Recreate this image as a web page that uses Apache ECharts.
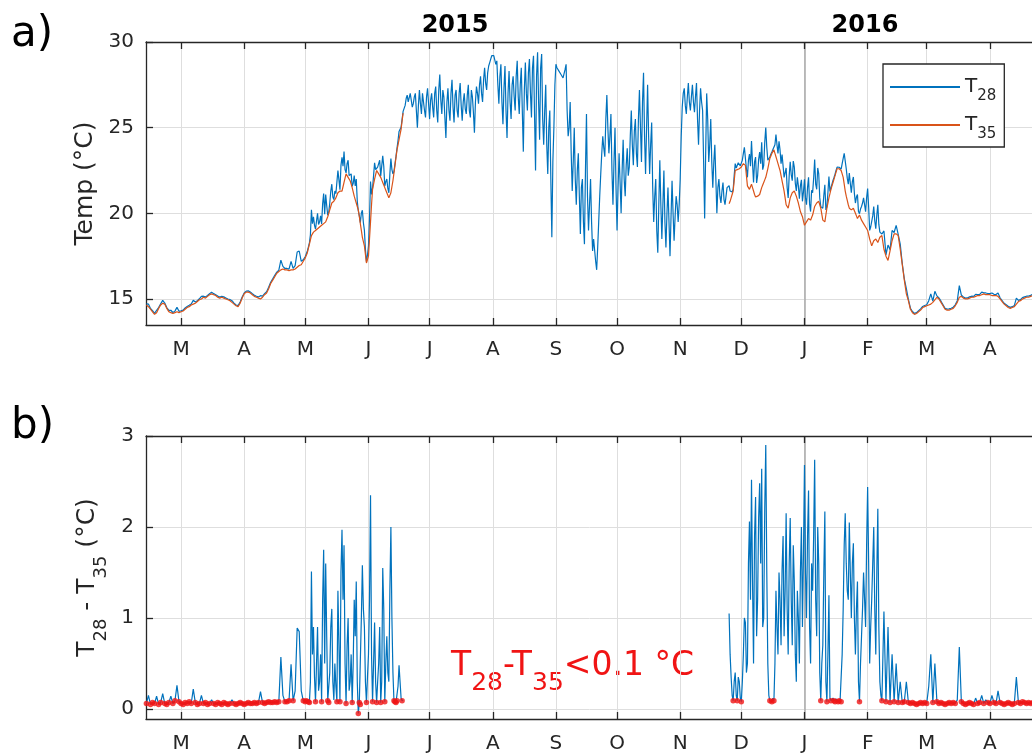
<!DOCTYPE html>
<html>
<head>
<meta charset="utf-8">
<script src="https://cdn.jsdelivr.net/npm/echarts@6/dist/echarts.min.js"></script>
<style>
  html, body { margin: 0; padding: 0; background: #ffffff; }
  #chart { width: 1032px; height: 756px; }
</style>
</head>
<body>
<div id="chart"></div>
<script>
// Days are counted from 1 Jan 2015 (day 0). Daily readings, plus mid-day
// readings (day + 0.5) through the most variable stretches.

// Spring 2015: both sensors running (12 Feb .. 18 Jun 2015)
const springStart = 42;
const t35Spring = [
  14.65,14.55,14.4,14.25,14.1,14.2,14.45,14.65,14.75,14.7,
  14.45,14.26,14.2,14.15,14.2,14.25,14.2,14.25,14.3,14.4,
  14.5,14.55,14.65,14.7,14.75,14.85,14.95,15.0,15.1,15.05,
  15.15,15.25,15.3,15.25,15.2,15.1,15.05,15.1,15.05,15.0,
  14.95,14.9,14.8,14.7,14.6,14.55,14.75,15.05,15.3,15.4,
  15.4,15.35,15.25,15.15,15.1,15.05,15.0,15.1,15.25,15.35,
  15.6,15.9,16.1,16.3,16.5,16.6,16.7,16.75,16.7,16.7,
  16.65,16.7,16.7,16.75,16.85,16.95,17.0,17.2,17.4,17.7,
  18.2,18.7,18.9,19.0,19.1,19.2,19.3,19.4,19.5,19.8,
  20.2,20.6,20.7,20.9,21.2,21.3,21.3,21.8,22.3,22.1,
  21.9,21.5,21.0,20.6,20.2,19.4,18.6,18.1,17.1,17.5,
  19.5,21.4,22.0,22.5,22.3,22.1,21.8,21.5,21.2,20.9,
  21.2,21.9,22.8,23.7,24.3,24.9,25.85
];
const diffSpring = [
  0.06,0.15,0.05,0.07,0.06,0.14,0.05,0.07,0.17,0.06,
  0.05,0.07,0.14,0.06,0.09,0.26,0.08,0.06,0.05,0.07,
  0.06,0.08,0.06,0.22,0.07,0.05,0.06,0.15,0.06,0.07,
  0.05,0.06,0.1,0.06,0.05,0.07,0.06,0.05,0.07,0.06,
  0.05,0.06,0.1,0.06,0.05,0.06,0.07,0.06,0.05,0.06,
  0.07,0.06,0.06,0.07,0.06,0.07,0.19,0.07,0.06,0.07,
  0.08,0.07,0.07,0.08,0.07,0.08,0.57,0.15,0.08,0.08,
  0.09,0.49,0.09,0.2,0.89,0.85,0.2,0.09,0.08,0.1,
  0.07,1.51,0.9,0.08,0.9,0.3,0.08,1.75,1.6,0.09,
  0.4,1.1,0.1,0.25,1.3,0.08,1.97,1.8,0.06,1.0,
  0.3,0.07,1.2,1.4,-0.05,0.05,1.58,0.9,0.07,0.6,
  2.35,0.08,0.95,0.07,0.5,0.07,1.55,0.08,0.8,0.3,
  2.0,0.4,0.08,0.09,0.48,0.12,0.1
];
// mid-day readings, 1 May .. 17 Jun 2015
const springMidStart = 120;
const t35SpringMid = [
  17.55,17.95,18.45,18.8,18.95,19.05,19.15,19.25,19.35,19.45,
  19.65,20.0,20.4,20.65,20.8,21.05,21.25,21.3,21.55,22.05,
  22.2,22.0,21.7,21.25,20.8,20.4,19.8,19.0,18.35,17.6,
  17.2,18.5,20.5,21.7,22.25,22.4,22.2,21.95,21.65,21.35,
  21.05,21.0,21.55,22.35,23.25,24.0,24.6,25.4
];
const diffSpringMid = [
  0.09,0.08,0.3,0.6,0.35,0.5,0.2,0.6,1.2,0.5,
  0.8,0.07,0.9,0.3,0.5,0.08,0.7,1.5,1.2,0.5,
  0.7,0.2,0.6,0.5,0.8,0.3,0.07,1.0,1.1,0.3,
  0.35,1.2,0.6,0.5,0.3,0.3,0.9,0.3,1.1,0.5,
  0.4,1.3,1.0,0.09,0.07,0.25,0.3,0.09
];

// Summer/autumn 2015: only the 28 m sensor (19 Jun .. 24 Nov 2015)
const summerStart = 169;
const t28Summer = [
  26.3,26.9,26.6,27.1,26.4,27.0,25.0,27.2,25.8,26.9,
  25.6,27.3,25.5,27.0,25.6,27.4,25.3,28.1,25.8,26.8,
  24.4,27.3,25.4,27.8,25.3,27.2,25.6,27.6,25.4,27.0,
  25.8,27.5,25.6,26.8,24.7,27.4,26.4,28.0,26.5,28.5,
  27.2,28.6,29.0,29.3,29.1,28.9,26.4,28.7,25.2,28.6,
  24.4,28.3,25.5,28.0,26.0,28.9,25.8,28.5,23.6,28.8,
  26.0,29.0,25.6,29.2,22.5,29.4,24.3,29.3,24.0,27.5,
  22.3,26.0,18.6,25.0,28.7,28.4,28.2,28.0,27.9,28.7,
  24.5,26.5,21.3,25.0,20.5,23.5,18.8,22.0,18.2,25.8,
  19.0,22.0,17.8,18.6,16.7,19.5,22.3,24.5,23.3,26.9,
  23.5,25.8,20.5,25.0,19.0,23.5,20.0,24.3,21.0,23.8,
  22.7,26.0,22.8,25.5,22.7,27.2,23.0,28.2,22.3,27.5,
  22.3,25.3,19.5,22.0,17.7,23.1,18.5,22.5,18.0,21.5,
  17.5,21.9,18.4,21.0,19.5,22.0,26.2,27.3,25.8,27.6,
  26.0,27.5,25.9,27.6,24.0,27.3,26.0,19.7,27.0,23.0,
  25.5,21.5,24.0,20.0,22.0,20.6,21.8,20.5,21.5
];
const t28SummerMid = [
  26.7,26.5,27.0,26.2,26.8,26.0,26.3,26.4,27.0,26.0,
  26.8,26.4,26.6,26.2,27.0,26.0,27.2,26.6,27.2,25.6,
  26.5,26.0,27.0,26.2,26.9,26.0,27.0,26.3,26.5,26.1,
  26.9,26.0,27.2,25.9,26.5,27.0,27.5,27.0,27.8,27.6,
  28.2,28.8,29.2,29.2,28.7,27.5,28.0,26.5,27.3,26.0,
  27.0,26.5,27.5,26.8,28.0,26.8,27.5,26.0,27.2,27.0,
  28.2,27.0,28.5,25.8,28.0,26.5,28.5,25.5,26.0,24.0,
  25.0,22.0,23.0,27.5,28.5,28.3,28.1,27.9,28.4,26.0,
  25.0,23.5,23.0,22.0,22.5,21.0,21.5,19.5,22.5,21.0,
  20.5,19.5,18.5,17.2,18.0,21.0,23.5,23.8,25.5,25.0,
  24.5,22.5,23.0,21.5,21.5,21.8,22.5,22.0,22.8,22.2,
  24.5,24.0,24.8,23.5,25.5,25.0,26.5,24.5,25.0,24.5,
  24.0,21.5,21.0,19.0,20.5,20.5,20.5,19.5,20.0,19.5,
  19.8,20.0,19.8,20.5,20.5,24.5,27.0,26.3,26.8,26.5,
  26.8,26.5,26.8,25.5,26.0,26.5,23.0,23.5,25.5,24.0,
  23.0,23.0,22.0,21.5,21.0,21.3,20.8,21.0
];

// Winter 2015/16: both sensors running again (25 Nov 2015 .. 25 Apr 2016)
const winterStart = 328;
const t35Winter = [
  20.56,20.9,21.3,22.5,22.55,22.6,22.7,22.9,22.8,21.6,
  21.4,21.7,21.3,20.95,21.0,21.1,21.5,21.8,22.1,22.6,
  23.2,23.5,23.7,23.3,22.9,22.5,21.9,21.3,20.5,20.3,
  20.9,21.2,21.3,21.0,20.6,20.1,19.8,19.3,19.5,19.7,
  19.6,19.9,20.4,20.6,20.7,20.3,19.6,19.5,20.3,20.9,
  21.4,21.8,22.2,22.6,22.6,22.5,22.1,21.3,20.75,20.3,
  20.2,20.3,20.0,19.7,19.9,19.6,19.4,19.2,19.0,18.5,
  18.1,18.4,18.5,18.3,18.6,18.7,17.9,17.5,17.25,17.8,
  18.4,18.8,18.8,18.7,17.9,17.0,16.1,15.3,14.9,14.4,
  14.2,14.1,14.15,14.25,14.35,14.5,14.55,14.6,14.65,14.7,
  14.8,14.95,15.1,15.0,14.8,14.6,14.4,14.35,14.35,14.4,
  14.45,14.6,14.8,15.1,15.15,15.05,15.0,15.0,15.05,15.1,
  15.1,15.15,15.2,15.2,15.25,15.3,15.25,15.25,15.25,15.2,
  15.2,15.2,15.15,15.0,14.85,14.7,14.6,14.5,14.45,14.5,
  14.55,14.7,14.85,14.9,15.0,15.05,15.1,15.1,15.15,15.2,
  15.2,15.15,15.1
];
const diffWinter = [
  1.05,0.35,0.09,0.4,0.09,0.3,0.08,0.6,0.95,0.5,
  2.06,2.52,0.5,2.33,1.2,2.48,2.64,1.0,2.9,0.5,
  0.09,0.08,0.09,1.3,0.6,1.2,1.53,0.8,2.15,0.6,
  2.1,0.7,1.4,0.3,1.0,1.5,0.9,2.68,1.0,2.4,
  0.5,1.3,2.74,0.8,1.6,0.09,0.7,2.17,0.08,1.25,
  0.09,0.12,0.08,0.1,0.09,0.08,1.1,2.15,1.3,2.05,
  1.0,1.82,0.6,1.4,0.08,0.8,1.5,0.9,2.44,0.5,
  1.2,2.0,0.6,2.2,0.3,0.09,1.07,0.08,0.9,0.07,
  0.6,0.08,0.5,0.07,0.3,0.07,0.08,0.3,0.07,0.06,
  0.07,0.06,0.05,0.06,0.07,0.06,0.07,0.06,0.25,0.6,
  0.07,0.5,0.08,0.06,0.07,0.06,0.05,0.06,0.07,0.06,
  0.07,0.06,0.1,0.68,0.08,0.06,0.05,0.06,0.07,0.06,
  0.05,0.12,0.06,0.07,0.15,0.06,0.1,0.07,0.06,0.15,
  0.07,0.06,0.2,0.07,0.06,0.05,0.06,0.07,0.06,0.05,
  0.06,0.35,0.07,0.06,0.08,0.07,0.06,0.07,0.06,0.07,
  0.06,0.07,0.06
];
// mid-day readings, 25 Nov 2015 .. 7 Feb 2016
const winterMidStart = 328;
const t35WinterMid = [
  20.7,21.1,21.9,22.5,22.6,22.65,22.8,22.85,22.2,21.5,
  21.55,21.5,21.1,20.97,21.05,21.3,21.65,21.95,22.35,22.9,
  23.35,23.6,23.5,23.1,22.7,22.2,21.6,20.9,20.4,20.6,
  21.05,21.25,21.15,20.8,20.35,19.95,19.55,19.4,19.6,19.65,
  19.75,20.15,20.5,20.65,20.5,19.95,19.55,19.9,20.6,21.15,
  21.6,22.0,22.4,22.6,22.55,22.3,21.7,21.0,20.5,20.25,
  20.25,20.15,19.85,19.8,19.75,19.5,19.3,19.1,18.75,18.3,
  18.25,18.45,18.4,18.45,18.65
];
const diffWinterMid = [
  0.6,0.15,0.3,0.15,0.35,0.12,0.3,1.0,0.4,1.6,
  1.2,1.4,1.9,0.8,2.1,1.6,0.9,2.2,1.5,0.15,
  0.1,0.12,0.5,0.9,1.5,0.7,1.9,1.3,1.1,1.6,
  1.2,1.8,0.6,1.3,0.5,2.0,1.7,1.5,1.9,0.9,
  1.6,1.9,1.2,2.0,0.4,0.5,1.5,0.3,0.6,0.12,
  0.1,0.09,0.11,0.08,0.1,0.6,1.8,1.6,1.2,1.5,
  1.6,1.0,1.1,0.3,0.5,1.1,1.2,1.8,1.6,0.9,
  1.6,1.1,1.5,0.9,0.15
];

// Axis ticks: first day of each month, Mar 2015 .. May 2016
const monthTicks  = [59, 90, 120, 151, 181, 212, 243, 273, 304, 334, 365, 396, 425, 456, 486];
const monthLabels = ['M','A','M','J','J','A','S','O','N','D','J','F','M','A','M'];
const yearTickDays = [193.5, 394.7];
const yearLabels   = ['2015', '2016'];
const yearBoundary = [365];
const tempTicks = [15, 20, 25, 30];
const diffTicks = [0, 1, 2, 3];
const threshold = 0.1;

// ---- assemble plotted series ----
// merge daily and mid-day readings into one time-ordered list
function merge(start, daily, midStart, mid) {
  const pts = daily.map((v, i) => [start + i, v]);
  if (mid) mid.forEach((v, i) => pts.push([midStart + i + 0.5, v]));
  return pts.sort((a, b) => a[0] - b[0]);
}
const t28Pts = [], t35Pts = [], diffPts = [];
function addOverlap(t35Seg, diffSeg) {
  t35Seg.forEach((p, i) => {
    const d = diffSeg[i][1];
    t35Pts.push(p);
    diffPts.push([p[0], d]);
    t28Pts.push([p[0], +(p[1] + d).toFixed(3)]);
  });
}
addOverlap(merge(springStart, t35Spring, springMidStart, t35SpringMid),
           merge(springStart, diffSpring, springMidStart, diffSpringMid));
t35Pts.push([summerStart, '-']);
diffPts.push([summerStart, '-']);
merge(summerStart, t28Summer, summerStart, t28SummerMid).forEach(p => t28Pts.push(p));
addOverlap(merge(winterStart, t35Winter, winterMidStart, t35WinterMid),
           merge(winterStart, diffWinter, winterMidStart, diffWinterMid));
const belowPts = diffPts.filter(p => p[1] !== '-' && p[1] < threshold);

// ---- styling ----
const FONT = 'DejaVu Sans';
const AX = '#262626';
const GRIDC = '#dedede';
const BLUE = '#0072BD';
const ORANGE = '#D95319';
const RED = '#f01414';
const dayMin = 41.8, dayMax = 486;

const subRich = {
  m: { fontFamily: FONT, fontSize: 25, lineHeight: 26, color: AX },
  s: { fontFamily: FONT, fontSize: 18, lineHeight: 18, padding: [28, 0, 0, 0], color: AX }
};

function bottomAxis(g) {
  return {
    type: 'value', gridIndex: g, position: 'bottom', min: dayMin, max: dayMax,
    axisLine: { show: true, onZero: false, lineStyle: { color: AX, width: 1.3 } },
    axisTick: { show: true, inside: true, length: 7, customValues: monthTicks, lineStyle: { color: AX, width: 1.3 } },
    axisLabel: {
      show: true, customValues: monthTicks, margin: 15,
      formatter: v => monthLabels[monthTicks.indexOf(v)],
      fontFamily: FONT, fontSize: 20, color: AX
    },
    splitLine: { show: true, lineStyle: { color: GRIDC, width: 1 } }
  };
}
function topAxis(g, withYears) {
  return {
    type: 'value', gridIndex: g, position: 'top', min: dayMin, max: dayMax,
    axisLine: { show: true, onZero: false, lineStyle: { color: AX, width: 1.3 } },
    axisTick: { show: true, inside: true, length: 7, customValues: monthTicks, lineStyle: { color: AX, width: 1.3 } },
    axisLabel: withYears ? {
      show: true, customValues: yearTickDays, margin: 4,
      formatter: v => yearLabels[yearTickDays.indexOf(v)],
      fontFamily: FONT, fontSize: 24, fontWeight: 'bold', color: '#000'
    } : { show: false },
    splitLine: { show: false }
  };
}
function yearLineAxis(g) {
  return {
    type: 'value', gridIndex: g, position: 'bottom', min: dayMin, max: dayMax,
    axisLine: { show: false }, axisLabel: { show: false },
    axisTick: { show: false, customValues: yearBoundary },
    splitLine: { show: true, lineStyle: { color: '#a8a8a8', width: 1.5 } }
  };
}
function leftAxis(g, min, max, ticks, name, nameGap, rich) {
  return {
    type: 'value', gridIndex: g, position: 'left', min, max,
    axisLine: { show: true, onZero: false, lineStyle: { color: AX, width: 1.3 } },
    axisTick: { show: true, inside: true, length: 7, customValues: ticks, lineStyle: { color: AX, width: 1.3 } },
    axisLabel: { show: true, customValues: ticks, margin: 12, fontFamily: FONT, fontSize: 20, color: AX },
    splitLine: { show: true, lineStyle: { color: GRIDC, width: 1 } },
    name, nameLocation: 'middle', nameGap,
    nameTextStyle: Object.assign({ fontFamily: FONT, fontSize: 25, color: AX }, rich ? { rich } : {})
  };
}

const option = {
  animation: false,
  backgroundColor: '#ffffff',
  textStyle: { fontFamily: FONT },
  grid: [
    { left: 146, top: 42, width: 905, height: 283, containLabel: false, outerBoundsMode: 'none' },
    { left: 146, top: 436, width: 905, height: 283, containLabel: false, outerBoundsMode: 'none' }
  ],
  xAxis: [bottomAxis(0), topAxis(0, true), yearLineAxis(0), bottomAxis(1), topAxis(1, false), yearLineAxis(1)],
  yAxis: [
    leftAxis(0, 13.48, 30, tempTicks, 'Temp (°C)', 46, null),
    leftAxis(1, -0.11, 3, diffTicks, '{m|T}{s|28}{m| - T}{s|35}{m| (°C)}', 37, subRich)
  ],
  legend: {
    data: ['T28', 'T35'],
    orient: 'vertical', left: 883, top: 64,
    backgroundColor: '#ffffff', borderColor: AX, borderWidth: 1.3, borderRadius: 0,
    padding: [6, 8, 5, 7], itemGap: 4,
    icon: 'rect', itemWidth: 70, itemHeight: 2,
    formatter: n => '{m|T}{s|' + n.slice(1) + '}',
    textStyle: {
      rich: {
        m: { fontFamily: FONT, fontSize: 20, lineHeight: 22, color: AX },
        s: { fontFamily: FONT, fontSize: 15, lineHeight: 14, padding: [19, 0, 0, 0], color: AX }
      }
    }
  },
  graphic: [
    { type: 'text', left: 11, top: 14, style: { text: 'a)', font: '42px "DejaVu Sans"', fill: '#000' } },
    { type: 'text', left: 11, top: 406, style: { text: 'b)', font: '42px "DejaVu Sans"', fill: '#000' } },
    {
      type: 'text', left: 451, top: 637,
      style: {
        text: '{m|T}{s|28}{m|-T}{s|35}{m|<0.1 °C }',
        rich: {
          m: { fontFamily: FONT, fontSize: 33, lineHeight: 33, fill: RED, color: RED },
          s: { fontFamily: FONT, fontSize: 25, lineHeight: 25, padding: [34, 0, 0, 0], fill: RED, color: RED }
        }
      }
    }
  ],
  series: [
    {
      name: 'T28', type: 'line', xAxisIndex: 0, yAxisIndex: 0, data: t28Pts,
      symbol: 'none', showSymbol: false, color: BLUE,
      lineStyle: { color: BLUE, width: 1.2 }, z: 3
    },
    {
      name: 'T35', type: 'line', xAxisIndex: 0, yAxisIndex: 0, data: t35Pts,
      symbol: 'none', showSymbol: false, color: ORANGE, connectNulls: false,
      lineStyle: { color: ORANGE, width: 1.2 }, z: 4
    },
    {
      name: 'T28 - T35', type: 'line', xAxisIndex: 3, yAxisIndex: 1, data: diffPts,
      symbol: 'none', showSymbol: false, color: BLUE, connectNulls: false,
      lineStyle: { color: BLUE, width: 1.2 }, z: 3
    },
    {
      name: 'below threshold', type: 'scatter', xAxisIndex: 3, yAxisIndex: 1, data: belowPts,
      symbol: 'circle', symbolSize: 5.5, itemStyle: { color: RED }, z: 4
    }
  ]
};

const chart = echarts.init(document.getElementById('chart'), null, { renderer: 'canvas' });
chart.setOption(option);
</script>
</body>
</html>
